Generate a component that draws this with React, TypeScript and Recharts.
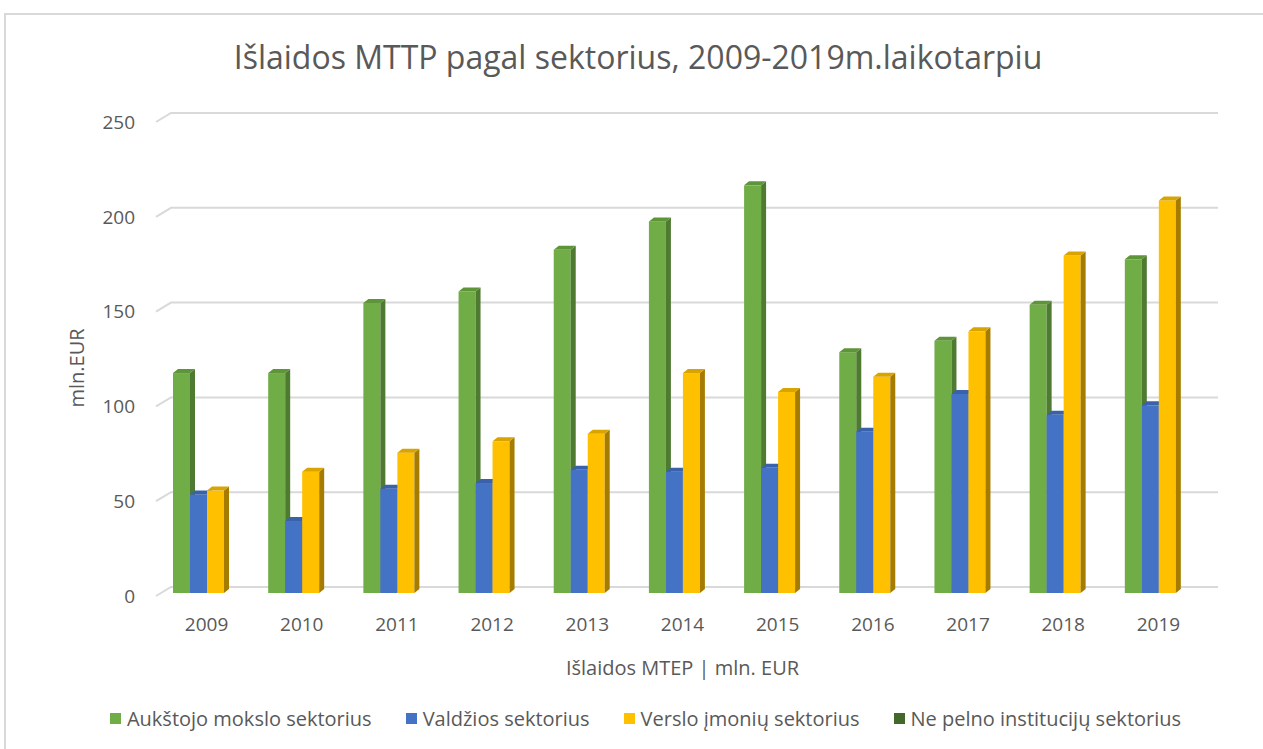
import React from 'react';
import { BarChart, Bar, XAxis, YAxis, CartesianGrid, Legend } from 'recharts';

const years = ['2009', '2010', '2011', '2012', '2013', '2014', '2015', '2016', '2017', '2018', '2019'];
const higherEdu = [116, 116, 153, 159, 181, 196, 215, 127, 133, 152, 176];
const government = [52, 38, 55, 58, 65, 64, 66, 85, 105, 94, 99];
const business = [54, 64, 74, 80, 84, 116, 106, 114, 138, 178, 207];
const nonProfit = [0, 0, 0, 0, 0, 0, 0, 0, 0, 0, 0];
const yTicks = [0, 50, 100, 150, 200, 250];

const series = [
  { key: 'higherEdu', name: 'Aukštojo mokslo sektorius', color: '#70AD47', side: '#4E7A31', top: '#5F9539' },
  { key: 'government', name: 'Valdžios sektorius', color: '#4472C4', side: '#2F5597', top: '#3A62AA' },
  { key: 'business', name: 'Verslo įmonių sektorius', color: '#FFC000', side: '#A67C00', top: '#D9A300' },
  { key: 'nonProfit', name: 'Ne pelno institucijų sektorius', color: '#43682B', side: '#2E4A1E', top: '#385A24' },
];

const data = years.map((year, i) => ({
  year,
  higherEdu: higherEdu[i],
  government: government[i],
  business: business[i],
  nonProfit: nonProfit[i],
}));

const FONT = '"Open Sans", sans-serif';
const TEXT = '#595959';

// fake 3D column: front face + right side + top
const make3D = (side: string, top: string) => (props: any) => {
  const { x, y, width, height, fill } = props;
  if (!height || height <= 0) return <g />;
  const dx = 5;
  const dy = 4;
  return (
    <g>
      <rect x={x} y={y} width={width} height={height} fill={fill} />
      <polygon points={`${x + width},${y} ${x + width + dx},${y - dy} ${x + width + dx},${y + height - dy} ${x + width},${y + height}`} fill={side} />
      <polygon points={`${x},${y} ${x + dx},${y - dy} ${x + width + dx},${y - dy} ${x + width},${y}`} fill={top} />
    </g>
  );
};

const gridLine = (p: any) => (
  <polyline
    key={p.key}
    points={`${p.x1 - 3},${p.y1 + 3} ${p.x1 + 12},${p.y1 - 6} ${p.x2 + 12},${p.y2 - 6}`}
    fill="none"
    stroke="#D9D9D9"
    strokeWidth={2}
  />
);

const legendContent = () => (
  <div style={{ display: 'flex', justifyContent: 'center', gap: 34, fontFamily: FONT, fontSize: 20, color: TEXT }}>
    {series.map((s) => (
      <div key={s.key} style={{ display: 'flex', alignItems: 'center' }}>
        <span style={{ display: 'inline-block', width: 11, height: 11, background: s.color, marginRight: 6 }} />
        <span>{s.name}</span>
      </div>
    ))}
  </div>
);

const yLabel = () => {
  const cy = 368;
  return (
    <text x={84} y={cy} transform={`rotate(-90, 84, ${cy})`} textAnchor="middle" fill={TEXT} fontFamily={FONT} fontSize={20}>
      mln.EUR
    </text>
  );
};

export default function App() {
  return (
    <div style={{ position: 'fixed', left: 0, top: 0, width: 1263, height: 749, background: '#fff', overflow: 'hidden' }}>
      <div style={{ position: 'absolute', left: 4, top: 13, width: 1300, height: 800, border: '2px solid #D9D9D9' }} />
      <div style={{ position: 'absolute', left: 0, top: 36, width: 1276, textAlign: 'center', fontFamily: FONT, fontSize: 32, color: TEXT, lineHeight: '42px' }}>
        Išlaidos MTTP pagal sektorius, 2009-2019m.laikotarpiu
      </div>
      <div style={{ position: 'absolute', left: 0, top: 0 }}>
        <BarChart width={1263} height={749} data={data} margin={{ top: 119, right: 57, left: 0, bottom: 0 }} barSize={17} barGap={0}>
          <CartesianGrid vertical={false} horizontal={gridLine} />
          <XAxis
            dataKey="year"
            height={156}
            axisLine={false}
            tickLine={false}
            tickSize={0}
            tickMargin={25}
            tick={{ fill: TEXT, fontFamily: FONT, fontSize: 19 }}
            label={{ value: 'Išlaidos MTEP | mln. EUR', position: 'insideTop', offset: 68, fill: TEXT, fontFamily: FONT, fontSize: 20 }}
          />
          <YAxis
            width={159}
            domain={[0, 250]}
            ticks={yTicks}
            axisLine={false}
            tickLine={false}
            tickSize={0}
            tickMargin={24}
            tick={{ fill: TEXT, fontFamily: FONT, fontSize: 19, dy: 3 }}
            label={yLabel}
          />
          <Legend
            layout="horizontal"
            verticalAlign="middle"
            align="center"
            content={legendContent}
            wrapperStyle={{ top: 705, left: 14, width: 1263 }}
          />
          {series.map((s) => (
            <Bar
              key={s.key}
              dataKey={s.key}
              name={s.name}
              fill={s.color}
              isAnimationActive={false}
              shape={make3D(s.side, s.top)}
            />
          ))}
        </BarChart>
      </div>
    </div>
  );
}
